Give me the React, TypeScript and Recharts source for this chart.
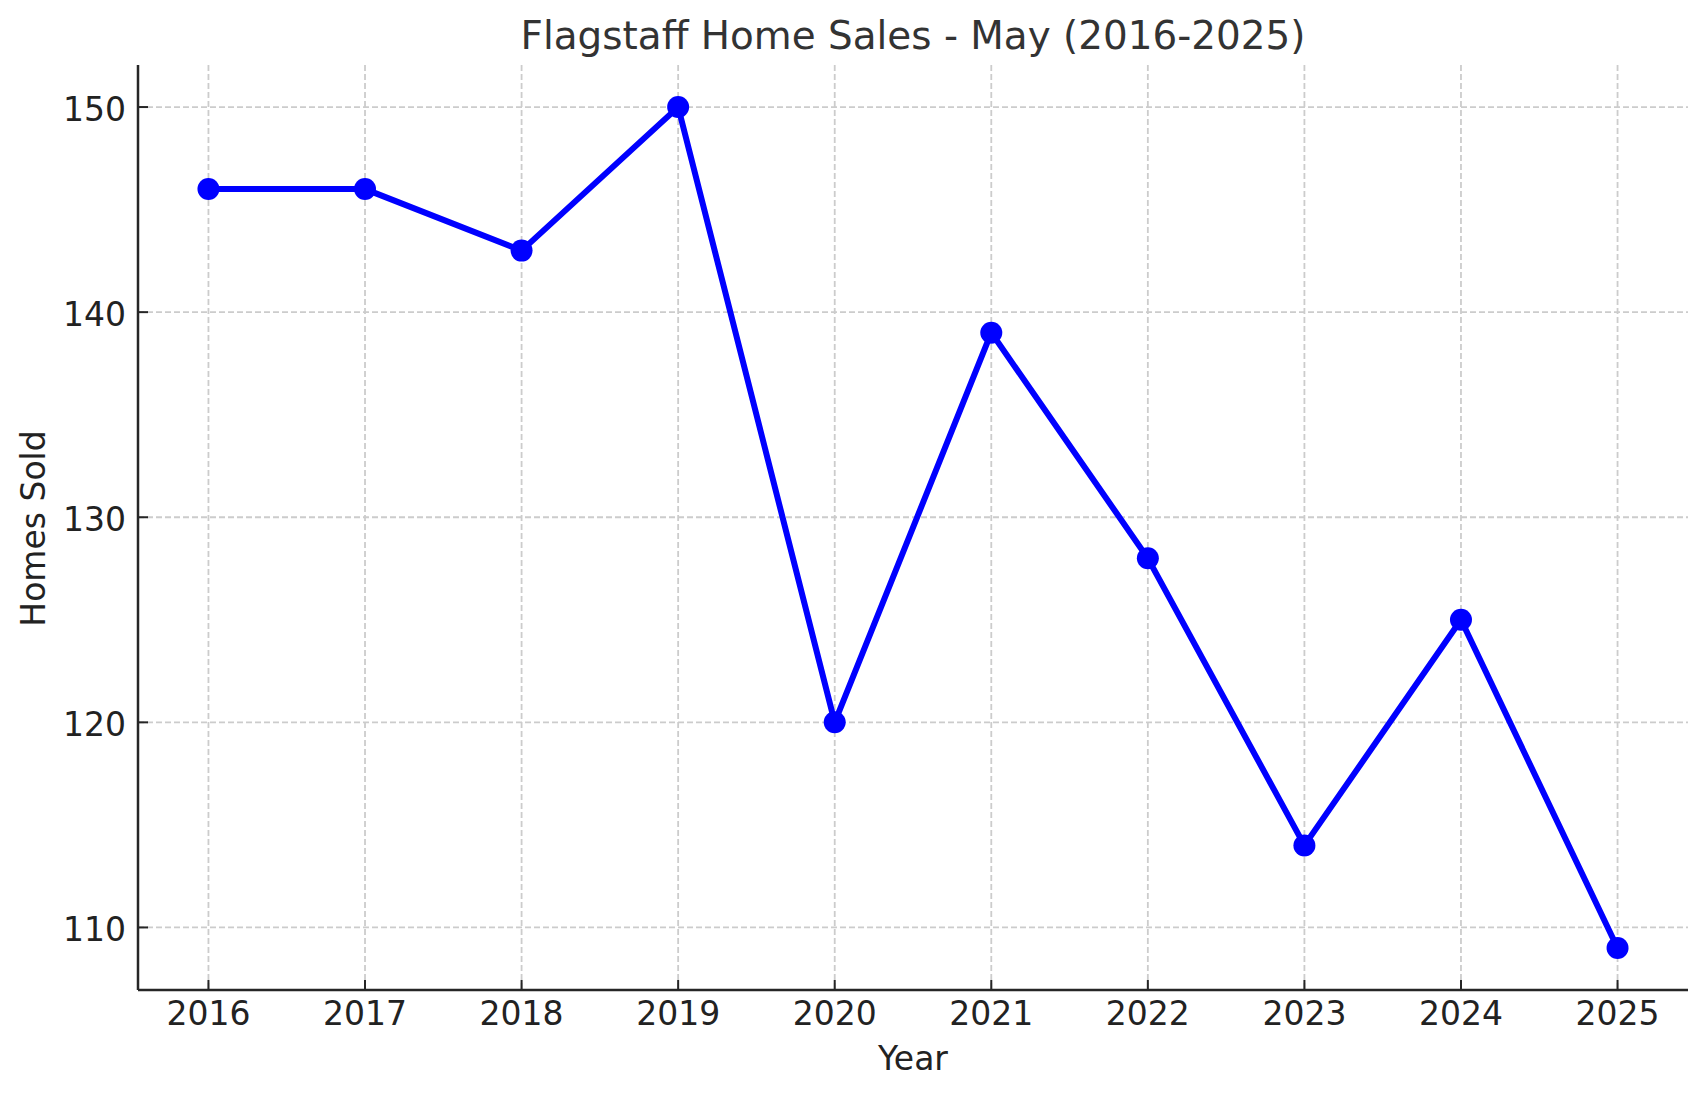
import { LineChart, Line, XAxis, YAxis, CartesianGrid, Label } from "recharts";

const years = [2016, 2017, 2018, 2019, 2020, 2021, 2022, 2023, 2024, 2025];
const homesSold = [146, 146, 143, 150, 120, 139, 128, 114, 125, 109];
const yTicks = [110, 120, 130, 140, 150];

const data = years.map((year, i) => ({ year, sold: homesSold[i] }));

const FONT = "'DejaVu Sans', sans-serif";
const TEXT = "#222222";
const AXIS = "#262626";

export default function App() {
  return (
    <div style={{ position: "absolute", left: 0, top: 0, width: 1707, height: 1097, background: "#fff" }}>
      <LineChart
        width={1707}
        height={1097}
        data={data}
        margin={{ top: 65, right: 19, left: 0, bottom: 0 }}
      >
        <CartesianGrid
          stroke="#cccccc"
          strokeWidth={1.8}
          strokeDasharray="6 3"
          syncWithTicks
          horizontalValues={yTicks}
          verticalValues={years}
        />
        <XAxis
          dataKey="year"
          type="number"
          domain={[2015.55, 2025.45]}
          ticks={years}
          allowDataOverflow
          height={107}
          tickSize={-10}
          tickMargin={22}
          stroke={AXIS}
          axisLine={{ stroke: AXIS, strokeWidth: 2.5 }}
          tickLine={{ stroke: AXIS, strokeWidth: 2 }}
          tick={{ fill: TEXT, fontSize: 33, fontFamily: FONT }}
        >
          <Label
            content={(props: any) => {
              const vb = props.viewBox || {};
              return (
                <text
                  x={vb.x + vb.width / 2}
                  y={vb.y + 80}
                  textAnchor="middle"
                  fill={TEXT}
                  fontSize={33}
                  fontFamily={FONT}
                >
                  Year
                </text>
              );
            }}
          />
        </XAxis>
        <YAxis
          type="number"
          domain={[106.95, 152.05]}
          ticks={yTicks}
          allowDataOverflow
          width={138}
          tickSize={-10}
          tickMargin={22}
          stroke={AXIS}
          axisLine={{ stroke: AXIS, strokeWidth: 2.5 }}
          tickLine={{ stroke: AXIS, strokeWidth: 2 }}
          tick={{ fill: TEXT, fontSize: 33, fontFamily: FONT, dy: 2 }}
        >
          <Label
            content={(props: any) => {
              const vb = props.viewBox || {};
              const cx = vb.x + 45;
              const cy = vb.y + vb.height / 2 + 1;
              return (
                <text
                  x={cx}
                  y={cy}
                  transform={`rotate(-90, ${cx}, ${cy})`}
                  textAnchor="middle"
                  fill={TEXT}
                  fontSize={33}
                  fontFamily={FONT}
                >
                  Homes Sold
                </text>
              );
            }}
          />
        </YAxis>
        <Line
          type="linear"
          dataKey="sold"
          stroke="#0000ff"
          strokeWidth={6}
          dot={{ r: 11, fill: "#0000ff", stroke: "none" }}
          activeDot={false}
          isAnimationActive={false}
        />
      </LineChart>
      <svg
        width={1707}
        height={64}
        style={{ position: "absolute", left: 0, top: 0, pointerEvents: "none" }}
      >
        <text x={913} y={48.5} textAnchor="middle" fill="#333333" fontSize={38.9} fontFamily={FONT}>
          Flagstaff Home Sales - May (2016-2025)
        </text>
      </svg>
    </div>
  );
}
